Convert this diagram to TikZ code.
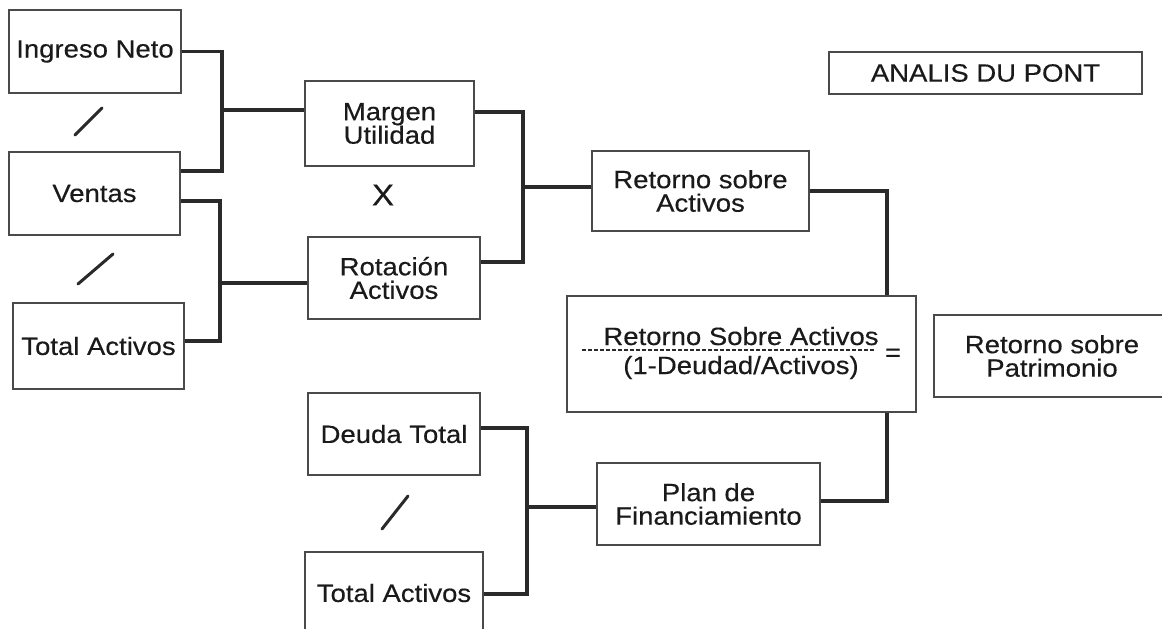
\documentclass[tikz,border=0pt]{standalone}
\usepackage{fontspec}
\setmainfont{Liberation Sans}[FakeStretch=1.1, FakeBold=0.35]
\usetikzlibrary{calc}
\definecolor{boxgray}{HTML}{4A4A4A}
\definecolor{linegray}{HTML}{2A2A2A}
\definecolor{ink}{HTML}{1A1A1A}
\newcommand{\dpfont}{\fontsize{25}{23.5}\selectfont}
\begin{document}
\begin{tikzpicture}[x=1pt,y=1pt,
  box/.style={draw=boxgray, line width=1.9pt, fill=white, inner sep=0pt,
    align=center, font=\dpfont, text=ink},
  conn/.style={draw=linegray, line width=3.3pt, line cap=butt, line join=miter},
  slash/.style={draw=linegray, line width=3pt, line cap=round},
  txt/.style={font=\dpfont, text=ink, inner sep=0pt}]
\useasboundingbox (0,0) rectangle (1162,-629);
\clip (0,0) rectangle (1162,-629);
\fill[white] (0,0) rectangle (1162,-629);

% ratio boxes, left column
\node[box, minimum width=172, minimum height=83] (IN)  at (95,-51.5)   {Ingreso Neto};
\node[box, minimum width=171, minimum height=83] (V)   at (94.5,-193.5) {Ventas};
\node[box, minimum width=171, minimum height=86] (TA1) at (98.5,-346)  {Total Activos};

% ratios
\node[box, minimum width=169, minimum height=85] (MU)  at (389.5,-123.5) {Margen\\Utilidad};
\node[box, minimum width=172, minimum height=82] (RA)  at (394,-278)     {Rotación\\Activos};
\node[txt, font=\fontsize{30}{30}\selectfont] (X) at (383,-195) {X};

\node[box, minimum width=217, minimum height=80] (ROA) at (700.5,-191) {Retorno sobre\\Activos};

% formula box
\node[box, minimum width=349, minimum height=116] (BIG) at (741.5,-354) {};
\node[txt, anchor=base] (num) at (741,-345) {Retorno Sobre Activos};
\node[txt, anchor=base] (den) at (741,-374) {(1-Deudad/Activos)};
\node[txt, anchor=base] (eq)  at (893,-361) {=};
\draw[linegray, line width=1.3pt, dash pattern=on 4pt off 2pt] (582,-350) -- (875,-350);

\node[box, minimum width=236, minimum height=82] (ROE) at (1052,-356) {Retorno sobre\\Patrimonio};

% financing
\node[box, minimum width=172, minimum height=82] (DT)  at (394,-434)   {Deuda Total};
\node[box, minimum width=178, minimum height=82] (TA2) at (394,-593)   {Total Activos};
\node[box, minimum width=223, minimum height=82] (PF)  at (708.5,-504) {Plan de\\Financiamiento};

\node[box, minimum width=313, minimum height=42] (ADP) at (985.5,-73) {ANALIS DU PONT};

% division signs
\draw[slash] (75,-135) -- (102,-108);
\draw[slash] (78,-284) -- (113,-254);
\draw[slash] (382,-529) -- (408,-496);

% connectors
\coordinate (j1) at (222,-110);
\coordinate (j2) at (220,-283);
\coordinate (j3) at (523,-187);
\coordinate (j4) at (887,-354);
\coordinate (j5) at (527,-507);

\draw[conn] (IN.east) -| (j1) |- ([yshift=22.5pt]V.east);
\draw[conn] (j1) -- (MU.west |- j1);

\draw[conn] ([yshift=-7.5pt]V.east) -| (j2) |- ([yshift=5pt]TA1.east);
\draw[conn] (j2) -- (RA.west |- j2);

\draw[conn] ([yshift=11.5pt]MU.east) -| (j3) |- ([yshift=16pt]RA.east);
\draw[conn] (j3) -- (ROA.west |- j3);

\draw[conn] (ROA.east) -| (j4 |- BIG.north);
\draw[conn] ([yshift=3pt]PF.east) -| (j4 |- BIG.south);

\draw[conn] ([yshift=6pt]DT.east) -| (j5) |- ([yshift=-1pt]TA2.east);
\draw[conn] (j5) -- (PF.west |- j5);
\end{tikzpicture}
\end{document}
